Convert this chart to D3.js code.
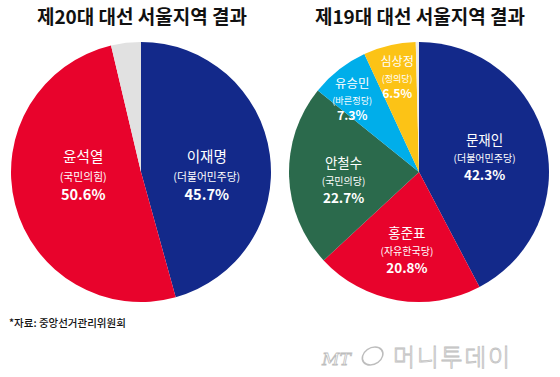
<!DOCTYPE html>
<html><head><meta charset="utf-8">
<script src="https://cdn.jsdelivr.net/npm/d3@7"></script>
<style>body{margin:0;background:#fff}svg{display:block}</style>
</head><body>
<svg id="c" width="560" height="377"></svg>
<script>
const titles = ["제20대 대선 서울지역 결과", "제19대 대선 서울지역 결과"];
const names20 = ["이재명", "윤석열", "기타"];
const parties20 = ["(더불어민주당)", "(국민의힘)", ""];
const values20 = [45.7, 50.6, 3.7];
const colors20 = ["#13298a", "#e8032c", "#e1e1e1"];
const names19 = ["문재인", "홍준표", "안철수", "유승민", "심상정", "기타"];
const parties19 = ["(더불어민주당)", "(자유한국당)", "(국민의당)", "(바른정당)", "(정의당)", ""];
const values19 = [42.3, 20.8, 22.7, 7.3, 6.5, 0.4];
const colors19 = ["#13298a", "#e8032c", "#2b6a4c", "#00aeea", "#fcc316", "#ececec"];
const source = "*자료: 중앙선거관리위원회";

// label layout (radius from centre, angle shift in degrees, font scale)
const layout20 = [[66, 12, 1.08], [58, 9.5, 1.08], [0, 0, 1]];
const layout19 = [[67, 2, 1], [80, -1, 1], [76, -5, 1], [98, -5, 0.92], [96, 0, 0.9], [0, 0, 1]];

const svg = d3.select("#c");
const font = "'Noto Sans CJK KR', 'Noto Sans', sans-serif";
const R = 130;

function drawPie(cx, cy, title, names, parties, values, colors, layout) {
  svg.append("text").attr("x", cx + 1).attr("y", 24).attr("text-anchor", "middle")
    .attr("font-family", font).attr("font-weight", 700).attr("font-size", 19)
    .attr("fill", "#111").text(title);
  const g = svg.append("g").attr("transform", `translate(${cx},${cy})`);
  const pie = d3.pie().sort(null).value(d => d)(values);
  const arc = d3.arc().innerRadius(0).outerRadius(R);
  g.selectAll("path").data(pie).join("path")
    .attr("d", arc).attr("fill", (d, i) => colors[i]);
  pie.forEach((d, i) => {
    if (!parties[i]) return;
    const [r, shift, s] = layout[i];
    const a = (d.startAngle + d.endAngle) / 2 + shift * Math.PI / 180;
    const x = Math.sin(a) * r;
    const y = -Math.cos(a) * r;
    const t = g.append("g").attr("transform", `translate(${x},${y})`)
      .attr("font-family", font).attr("fill", "#fff").attr("text-anchor", "middle");
    t.append("text").attr("y", -13.5 * s).attr("font-size", 13.5 * s).text(names[i]);
    t.append("text").attr("y", 4 * s).attr("font-size", 10 * s).text(parties[i]);
    t.append("text").attr("y", 21.5 * s).attr("font-size", 13.5 * s).attr("font-weight", 700)
      .text(values[i].toFixed(1) + "%");
  });
}

drawPie(141, 172, titles[0], names20, parties20, values20, colors20, layout20);
drawPie(419, 172, titles[1], names19, parties19, values19, colors19, layout19);

svg.append("text").attr("x", 9).attr("y", 327).attr("font-family", font)
  .attr("font-size", 10.5).attr("font-weight", 500).attr("fill", "#111").text(source);

// watermark
const wm = svg.append("g").attr("font-family", font).attr("fill", "#fff")
  .attr("stroke", "#bdbdbd").attr("stroke-width", 0.8);
wm.append("text").attr("x", 322).attr("y", 365).attr("font-size", 17)
  .attr("font-style", "italic").attr("font-family", "'DejaVu Serif', serif").text("MT");
wm.append("ellipse").attr("cx", 373).attr("cy", 356).attr("rx", 10).attr("ry", 9)
  .attr("fill", "none").attr("stroke-width", 1.5).attr("transform", "skewX(-15) translate(95,0)");
wm.append("text").attr("x", 393).attr("y", 366).attr("font-size", 24)
  .attr("font-weight", 300).attr("textLength", 117).text("머니투데이");
</script>
</body></html>
